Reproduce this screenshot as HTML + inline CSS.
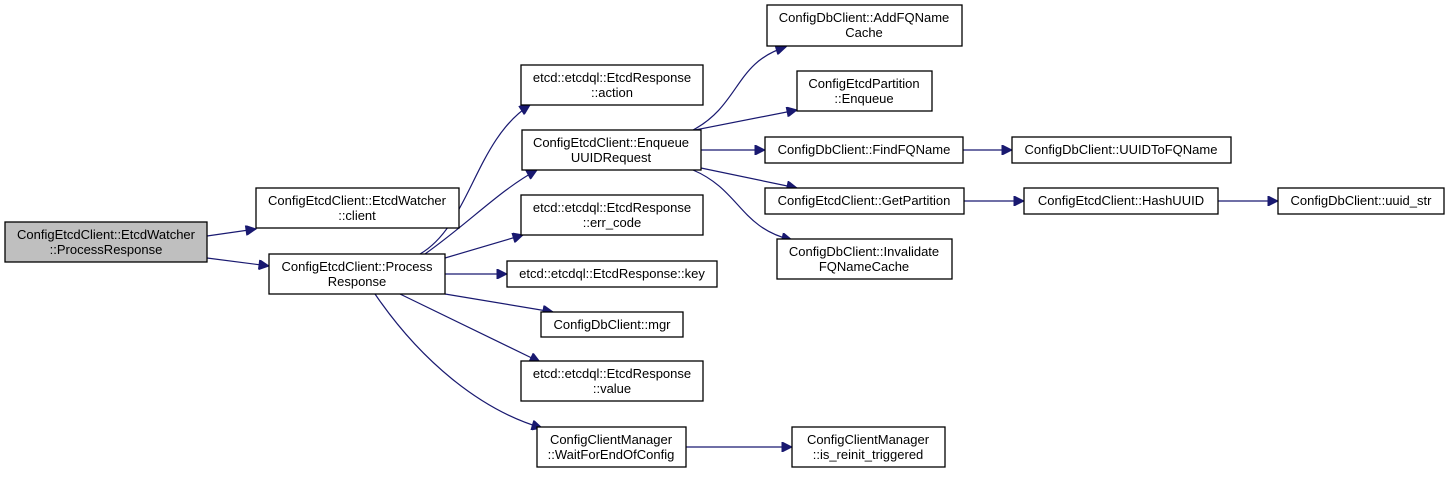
<!DOCTYPE html>
<html><head><meta charset="utf-8"><style>
html,body{margin:0;padding:0;background:#fff;}
svg text{font-family:"Liberation Sans",Arial,sans-serif;font-size:13px;fill:#000;text-anchor:middle;}
rect{fill:#fff;stroke:#000;stroke-width:1.3;}
path.e{fill:none;stroke:#191970;stroke-width:1.2;}
</style></head><body>
<svg width="1449" height="475" viewBox="0 0 1449 475" xmlns="http://www.w3.org/2000/svg">
<defs><marker id="a" viewBox="0 0 10 10" refX="10" refY="5" markerWidth="12" markerHeight="10" markerUnits="userSpaceOnUse" orient="auto"><path d="M0,0 L10,5 L0,10 z" fill="#191970" stroke="#191970"/></marker></defs>

<g>
<path class="e" marker-end="url(#a)" d="M207,236 L256,229"/>
<path class="e" marker-end="url(#a)" d="M207,258 L269,266"/>
<path class="e" marker-end="url(#a)" d="M420,254 C470,225 475,140 530,105"/>
<path class="e" marker-end="url(#a)" d="M425,254 C470,222 500,190 537,170"/>
<path class="e" marker-end="url(#a)" d="M445,258 L523,235"/>
<path class="e" marker-end="url(#a)" d="M445,274 L507,274"/>
<path class="e" marker-end="url(#a)" d="M445,294 L553,312"/>
<path class="e" marker-end="url(#a)" d="M400,294 L540,362"/>
<path class="e" marker-end="url(#a)" d="M375,294 C420,360 480,410 542,428"/>
<path class="e" marker-end="url(#a)" d="M693,130 C740,105 735,62 786,47"/>
<path class="e" marker-end="url(#a)" d="M695,130 L797,110"/>
<path class="e" marker-end="url(#a)" d="M701,150 L765,150"/>
<path class="e" marker-end="url(#a)" d="M701,168 L797,188"/>
<path class="e" marker-end="url(#a)" d="M693,170 C740,190 740,228 792,240"/>
<path class="e" marker-end="url(#a)" d="M963,150 L1012,150"/>
<path class="e" marker-end="url(#a)" d="M964,201 L1024,201"/>
<path class="e" marker-end="url(#a)" d="M1218,201 L1278,201"/>
<path class="e" marker-end="url(#a)" d="M686,447 L792,447"/>
</g>

<rect x="5" y="222" width="202" height="40" style="fill:#bfbfbf"/>
<text x="106" y="239">ConfigEtcdClient::EtcdWatcher</text><text x="106" y="254">::ProcessResponse</text>

<rect x="256" y="188" width="203" height="40"/>
<text x="357" y="205">ConfigEtcdClient::EtcdWatcher</text><text x="357" y="220">::client</text>

<rect x="269" y="254" width="176" height="40"/>
<text x="357" y="271">ConfigEtcdClient::Process</text><text x="357" y="286">Response</text>

<rect x="521" y="65" width="182" height="40"/>
<text x="612" y="82">etcd::etcdql::EtcdResponse</text><text x="612" y="97">::action</text>

<rect x="522" y="130" width="179" height="40"/>
<text x="611" y="147">ConfigEtcdClient::Enqueue</text><text x="611" y="162">UUIDRequest</text>

<rect x="521" y="195" width="182" height="40"/>
<text x="612" y="212">etcd::etcdql::EtcdResponse</text><text x="612" y="227">::err_code</text>

<rect x="507" y="261" width="210" height="26"/>
<text x="612" y="278">etcd::etcdql::EtcdResponse::key</text>

<rect x="541" y="312" width="142" height="25"/>
<text x="612" y="329">ConfigDbClient::mgr</text>

<rect x="521" y="361" width="182" height="40"/>
<text x="612" y="378">etcd::etcdql::EtcdResponse</text><text x="612" y="393">::value</text>

<rect x="537" y="427" width="149" height="40"/>
<text x="611" y="444">ConfigClientManager</text><text x="611" y="459">::WaitForEndOfConfig</text>

<rect x="767" y="5" width="195" height="41"/>
<text x="864" y="22">ConfigDbClient::AddFQName</text><text x="864" y="37">Cache</text>

<rect x="797" y="71" width="135" height="40"/>
<text x="864" y="88">ConfigEtcdPartition</text><text x="864" y="103">::Enqueue</text>

<rect x="765" y="137" width="198" height="26"/>
<text x="864" y="154">ConfigDbClient::FindFQName</text>

<rect x="765" y="188" width="199" height="26"/>
<text x="864" y="205">ConfigEtcdClient::GetPartition</text>

<rect x="777" y="239" width="175" height="40"/>
<text x="864" y="256">ConfigDbClient::Invalidate</text><text x="864" y="271">FQNameCache</text>

<rect x="1012" y="137" width="219" height="26"/>
<text x="1121" y="154">ConfigDbClient::UUIDToFQName</text>

<rect x="1024" y="188" width="194" height="26"/>
<text x="1121" y="205">ConfigEtcdClient::HashUUID</text>

<rect x="1278" y="188" width="166" height="26"/>
<text x="1361" y="205">ConfigDbClient::uuid_str</text>

<rect x="792" y="427" width="153" height="40"/>
<text x="868" y="444">ConfigClientManager</text><text x="868" y="459">::is_reinit_triggered</text>
</svg>
</body></html>
